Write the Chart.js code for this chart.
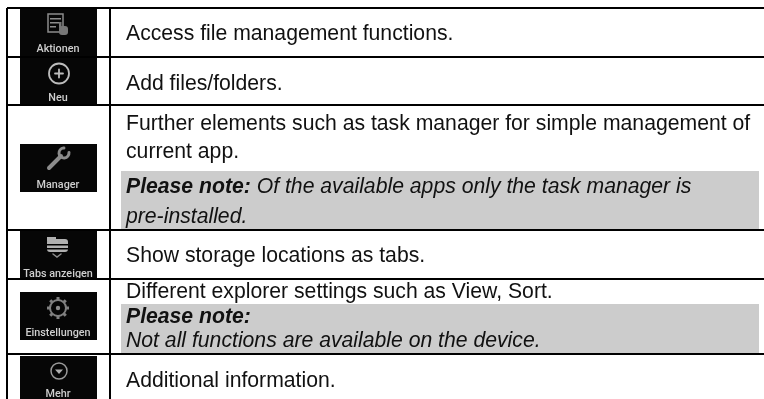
<!DOCTYPE html>
<html lang="en">
<head>
    <meta charset="UTF-8">
    <title>Explorer functions</title>
    <script src="https://cdn.jsdelivr.net/npm/chart.js"></script>
    <style>
        body {
            margin: 0;
            padding: 0;
            background: #fff;
        }
        canvas {
            display: block;
        }
    </style>
</head>
<body>
    <canvas id="tableChart" width="764" height="399"></canvas>

    <script>
        // Table content
        const iconLabels = ['Aktionen', 'Neu', 'Manager', 'Tabs anzeigen', 'Einstellungen', 'Mehr'];
        const iconKinds = ['doc', 'plus', 'wrench', 'tabs', 'gear', 'more'];
        const plainLines = [
            'Access file management functions.',
            'Add files/folders.',
            'Further elements such as task manager for simple management of',
            'current app.',
            'Show storage locations as tabs.',
            'Different explorer settings such as View, Sort.',
            'Additional information.'
        ];
        const noteLabel = 'Please note:';
        const noteLines = [
            ' Of the available apps only the task manager is',
            'pre-installed.',
            'Not all functions are available on the device.'
        ];

        // Layout, in picture units
        const pageW = 764, pageH = 399;
        const ruleY = [8, 57, 105, 230, 279, 354];
        const ruleX = [7, 110];
        const iconBlocks = [[9, 56], [58, 104], [144, 192], [231, 278], [292, 340], [356, 399]];
        const iconCentres = [23, 73.5, 159, 246, 308, 371];
        const iconLabelY = [52, 101, 188, 277, 336, 397];
        const bands = [[171, 229], [304, 353]];
        const plainBaseY = [40, 90, 130, 158, 262, 298, 387];
        const textX = 126;
        const textFont = '21.2px "Liberation Sans"';

        // Ruled lines are one dataset, nulls break the line between rules
        const rulePoints = [];
        ruleY.forEach(y => rulePoints.push({ x: ruleX[0], y: y }, { x: pageW, y: y }, { x: null, y: null }));
        ruleX.forEach(x => rulePoints.push({ x: x, y: ruleY[0] }, { x: x, y: pageH }, { x: null, y: null }));

        function drawIcon(ctx, kind, cx, cy) {
            ctx.save();
            ctx.translate(cx, cy);
            ctx.strokeStyle = '#8c8c8c';
            ctx.fillStyle = '#8c8c8c';
            ctx.lineWidth = 1.5;
            ctx.lineCap = 'round';
            if (kind === 'doc') {
                ctx.strokeRect(-10, -9, 15, 18);
                ctx.fillRect(-8, -5, 11, 1.5);
                ctx.fillRect(-8, -1, 11, 1.5);
                ctx.fillRect(-8, 3, 6, 1.5);
                ctx.fillStyle = '#777';
                ctx.beginPath();
                ctx.roundRect(1, 3, 9, 9, 3);
                ctx.fill();
                ctx.fillRect(1, -1, 2.5, 6);
            } else if (kind === 'plus') {
                ctx.strokeStyle = '#bcbcbc';
                ctx.lineWidth = 1.8;
                ctx.beginPath();
                ctx.arc(1, 0, 10, 0, Math.PI * 2);
                ctx.moveTo(-3, 0);
                ctx.lineTo(5, 0);
                ctx.moveTo(1, -4);
                ctx.lineTo(1, 4);
                ctx.stroke();
            } else if (kind === 'wrench') {
                ctx.lineWidth = 4;
                ctx.beginPath();
                ctx.moveTo(-9, 9);
                ctx.lineTo(3, -3);
                ctx.stroke();
                ctx.lineWidth = 3;
                ctx.beginPath();
                ctx.arc(6, -6, 5, -0.1, 4.7);
                ctx.stroke();
            } else if (kind === 'tabs') {
                ctx.fillStyle = '#b0b0b0';
                ctx.beginPath();
                ctx.roundRect(-11, -7, 21, 13, 3);
                ctx.fill();
                ctx.fillRect(-11, -9, 9, 4);
                ctx.fillStyle = '#000';
                ctx.fillRect(-11, -2, 21, 1.5);
                ctx.fillRect(-11, 2, 21, 1.5);
                ctx.beginPath();
                ctx.moveTo(-5, 8);
                ctx.lineTo(-1, 11);
                ctx.lineTo(3, 8);
                ctx.stroke();
            } else if (kind === 'gear') {
                ctx.strokeStyle = '#808080';
                ctx.lineWidth = 2;
                ctx.beginPath();
                ctx.arc(0, 0, 8, 0, Math.PI * 2);
                ctx.stroke();
                ctx.lineWidth = 3;
                ctx.lineCap = 'butt';
                for (let i = 0; i < 8; i++) {
                    const a = i * Math.PI / 4;
                    ctx.beginPath();
                    ctx.moveTo(Math.cos(a) * 8, Math.sin(a) * 8);
                    ctx.lineTo(Math.cos(a) * 11, Math.sin(a) * 11);
                    ctx.stroke();
                }
                ctx.beginPath();
                ctx.arc(0, 0, 2.2, 0, Math.PI * 2);
                ctx.fill();
            } else if (kind === 'more') {
                ctx.strokeStyle = '#9a9a9a';
                ctx.fillStyle = '#b0b0b0';
                ctx.beginPath();
                ctx.arc(1, 0, 8, 0, Math.PI * 2);
                ctx.stroke();
                ctx.beginPath();
                ctx.moveTo(-3, -1.5);
                ctx.lineTo(5, -1.5);
                ctx.lineTo(1, 3);
                ctx.closePath();
                ctx.fill();
            }
            ctx.restore();
        }

        // Draws bands and icons under the rules, text on top
        const tablePlugin = {
            id: 'tablePlugin',
            beforeDatasetsDraw(chart) {
                const ctx = chart.ctx;
                const px = chart.scales.x, py = chart.scales.y;
                ctx.save();
                ctx.fillStyle = '#cccccc';
                bands.forEach(b => {
                    ctx.fillRect(px.getPixelForValue(121), py.getPixelForValue(b[0]),
                        px.getPixelForValue(759) - px.getPixelForValue(121), py.getPixelForValue(b[1]) - py.getPixelForValue(b[0]));
                });
                iconBlocks.forEach((b, i) => {
                    ctx.fillStyle = '#060606';
                    ctx.fillRect(px.getPixelForValue(20), py.getPixelForValue(b[0]),
                        px.getPixelForValue(97) - px.getPixelForValue(20), py.getPixelForValue(b[1]) - py.getPixelForValue(b[0]));
                    drawIcon(ctx, iconKinds[i], px.getPixelForValue(58), py.getPixelForValue(iconCentres[i]));
                    ctx.fillStyle = '#cfcfcf';
                    ctx.font = '500 10.8px Roboto';
                    ctx.textAlign = 'center';
                    ctx.textBaseline = 'alphabetic';
                    ctx.fillText(iconLabels[i], px.getPixelForValue(58), py.getPixelForValue(iconLabelY[i]));
                });
                ctx.restore();
            },
            afterDatasetsDraw(chart) {
                const ctx = chart.ctx;
                const px = chart.scales.x, py = chart.scales.y;
                const x0 = px.getPixelForValue(textX);
                ctx.save();
                ctx.fillStyle = '#111';
                ctx.textAlign = 'left';
                ctx.textBaseline = 'alphabetic';
                ctx.font = textFont;
                plainLines.forEach((line, i) => ctx.fillText(line, x0, py.getPixelForValue(plainBaseY[i])));

                ctx.font = 'italic bold ' + textFont;
                const labelW = ctx.measureText(noteLabel).width;
                ctx.fillText(noteLabel, x0, py.getPixelForValue(193));
                ctx.fillText(noteLabel, x0, py.getPixelForValue(323));
                ctx.font = 'italic ' + textFont;
                ctx.fillText(noteLines[0], x0 + labelW, py.getPixelForValue(193));
                ctx.fillText(noteLines[1], x0, py.getPixelForValue(223));
                ctx.fillText(noteLines[2], x0, py.getPixelForValue(347));
                ctx.restore();
            }
        };

        new Chart(document.getElementById('tableChart').getContext('2d'), {
            type: 'scatter',
            data: {
                datasets: [{
                    data: rulePoints,
                    showLine: true,
                    spanGaps: false,
                    borderColor: '#000',
                    borderWidth: 2,
                    pointRadius: 0
                }]
            },
            options: {
                responsive: false,
                animation: false,
                layout: { padding: 0 },
                plugins: {
                    legend: { display: false },
                    tooltip: { enabled: false }
                },
                scales: {
                    x: { type: 'linear', display: false, min: 0, max: pageW },
                    y: { type: 'linear', display: false, min: 0, max: pageH, reverse: true }
                }
            },
            plugins: [tablePlugin]
        });
    </script>
</body>
</html>
